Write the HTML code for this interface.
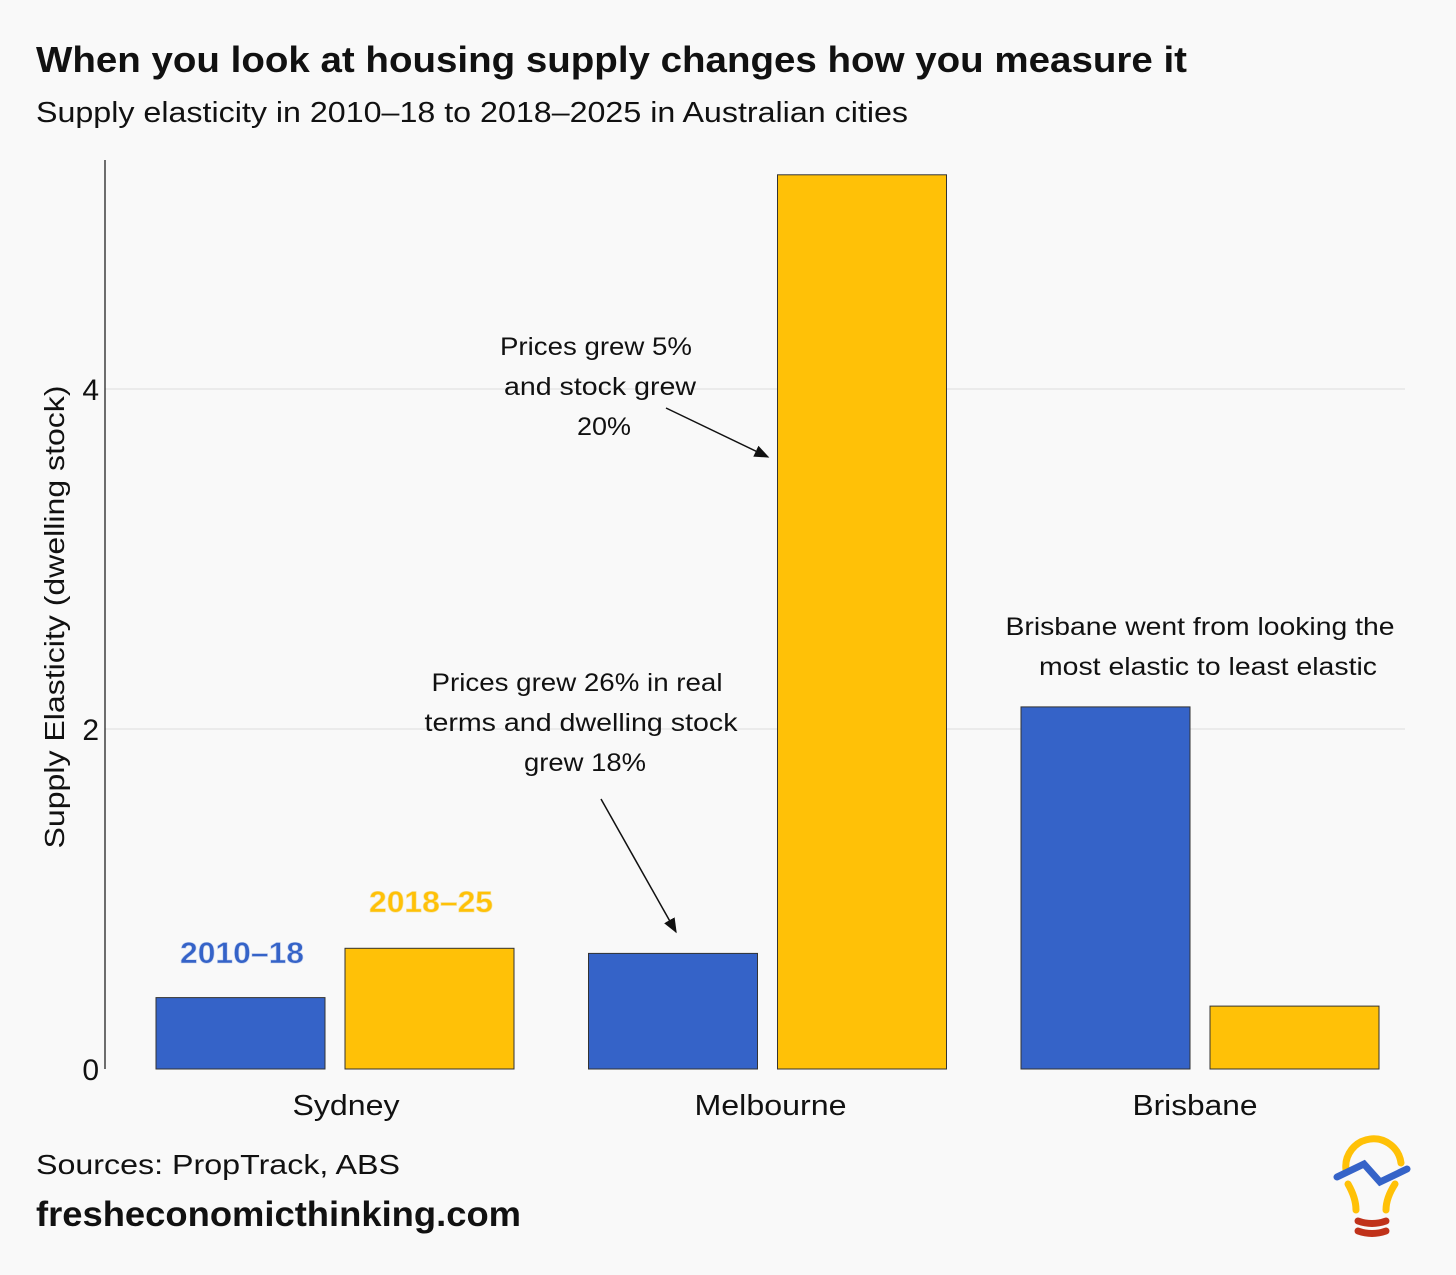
<!DOCTYPE html>
<html><head><meta charset="utf-8"><style>
body{margin:0;background:#f9f9f9;}
svg text{font-family:"Liberation Sans",sans-serif;}
</style></head><body>
<svg width="1456" height="1270" viewBox="0 0 1456 1270" xmlns="http://www.w3.org/2000/svg">
<rect width="1456" height="1270" fill="#f9f9f9"/>
<text x="36" y="72" font-size="36" font-weight="bold" fill="#111" textLength="1151" lengthAdjust="spacingAndGlyphs">When you look at housing supply changes how you measure it</text>
<text x="36" y="122" font-size="29" fill="#111" textLength="872" lengthAdjust="spacingAndGlyphs">Supply elasticity in 2010–18 to 2018–2025 in Australian cities</text>
<g id="grid"></g>
<line x1="105" y1="160" x2="105" y2="1069" stroke="#111" stroke-width="1.2"/>
<g id="bars"></g>
<text transform="translate(64,617) rotate(-90)" text-anchor="middle" font-size="28" fill="#111" textLength="463" lengthAdjust="spacingAndGlyphs">Supply Elasticity (dwelling stock)</text>
<text x="242" y="963" text-anchor="middle" font-size="30" font-weight="bold" fill="#3563c8" stroke="#c9d4ee" stroke-width="0.6" textLength="124" lengthAdjust="spacingAndGlyphs">2010–18</text>
<text x="431" y="912" text-anchor="middle" font-size="30" font-weight="bold" fill="#ffc107" stroke="#f3e0a0" stroke-width="0.6" textLength="124" lengthAdjust="spacingAndGlyphs">2018–25</text>
<g font-size="25" fill="#111" text-anchor="middle">
<text x="596" y="355" textLength="192" lengthAdjust="spacingAndGlyphs">Prices grew 5%</text>
<text x="600" y="395" textLength="192" lengthAdjust="spacingAndGlyphs">and stock grew</text>
<text x="604" y="435" textLength="54" lengthAdjust="spacingAndGlyphs">20%</text>
<text x="577" y="691" textLength="291" lengthAdjust="spacingAndGlyphs">Prices grew 26% in real</text>
<text x="581" y="731" textLength="313" lengthAdjust="spacingAndGlyphs">terms and dwelling stock</text>
<text x="585" y="771" textLength="122" lengthAdjust="spacingAndGlyphs">grew 18%</text>
<text x="1200" y="635" textLength="389" lengthAdjust="spacingAndGlyphs">Brisbane went from looking the</text>
<text x="1208" y="675" textLength="338" lengthAdjust="spacingAndGlyphs">most elastic to least elastic</text>
</g>
<defs><marker id="ah" viewBox="0 0 10 10" refX="9" refY="5" markerWidth="10" markerHeight="10" orient="auto"><path d="M0,1 L10,5 L0,9 z" fill="#111"/></marker></defs>
<line x1="666" y1="408" x2="768" y2="457" stroke="#111" stroke-width="1.5" marker-end="url(#ah)"/>
<line x1="601" y1="799" x2="676" y2="932" stroke="#111" stroke-width="1.5" marker-end="url(#ah)"/>
<text x="36" y="1174" font-size="28" fill="#111" textLength="364" lengthAdjust="spacingAndGlyphs">Sources: PropTrack, ABS</text>
<text x="36" y="1226" font-size="35" font-weight="bold" fill="#111" textLength="485" lengthAdjust="spacingAndGlyphs">fresheconomicthinking.com</text>
<g fill="none" stroke-linecap="round" stroke-width="7">
<path d="M1346,1170 A27,27 0 0 1 1401,1163" stroke="#ffc107"/>
<path d="M1348,1184 Q1356,1198 1356,1210" stroke="#ffc107"/>
<path d="M1395,1184 Q1386,1198 1386,1210" stroke="#ffc107"/>
<path d="M1337,1177 L1364,1164 L1380,1182 L1407,1169" stroke="#3563c8"/>
<path d="M1358,1221 Q1372,1226 1386,1221" stroke="#c0321a"/>
<path d="M1358,1231 Q1372,1236 1386,1231" stroke="#c0321a"/>
</g>
</svg>
<script>
const cities = ["Sydney","Melbourne","Brisbane"];
const series2010 = [0.42, 0.68, 2.13];
const series2018 = [0.71, 5.26, 0.37];
const yTicks = [0, 2, 4];
const ns="http://www.w3.org/2000/svg";
const y0=1069, pxPerUnit=170;
function yScale(v){return y0 - v*pxPerUnit;}
function cx(i){return 335 + i*432.5;}
function labelX(i){return 346 + i*424.5;}
const grid=document.getElementById('grid');
yTicks.forEach(t=>{
  if(t>0){const l=document.createElementNS(ns,'line');
  l.setAttribute('x1',105);l.setAttribute('x2',1405);l.setAttribute('y1',yScale(t));l.setAttribute('y2',yScale(t));
  l.setAttribute('stroke','#dddddd');l.setAttribute('stroke-width',1);
  
  
  grid.appendChild(l);}
  const tx=document.createElementNS(ns,'text');
  tx.setAttribute('x',99);tx.setAttribute('y',yScale(t)+11);tx.setAttribute('text-anchor','end');
  tx.setAttribute('font-size',30);tx.setAttribute('fill','#111');tx.textContent=t;
  
  
  grid.appendChild(tx);
});
const labelWidths=[107,152,125];
const bars=document.getElementById('bars');
cities.forEach((c,i)=>{
  [[series2010[i],'#3563c8',-179],[series2018[i],'#ffc107',10]].forEach(([v,col,off],k)=>{
    const r=document.createElementNS(ns,'rect');
    r.setAttribute('x',cx(i)+off);r.setAttribute('width',169);
    r.setAttribute('y',yScale(v));r.setAttribute('height',y0-yScale(v));
    r.setAttribute('fill',col);r.setAttribute('stroke','#333');r.setAttribute('stroke-width',1);
    
    
    bars.appendChild(r);
  });
  const t=document.createElementNS(ns,'text');
  t.setAttribute('x',labelX(i));t.setAttribute('y',1115);t.setAttribute('text-anchor','middle');
  t.setAttribute('font-size',29);t.setAttribute('fill','#111');t.textContent=c;
  t.setAttribute('textLength',labelWidths[i]);t.setAttribute('lengthAdjust','spacingAndGlyphs');
  
  
  bars.appendChild(t);
});
</script>
</body></html>
